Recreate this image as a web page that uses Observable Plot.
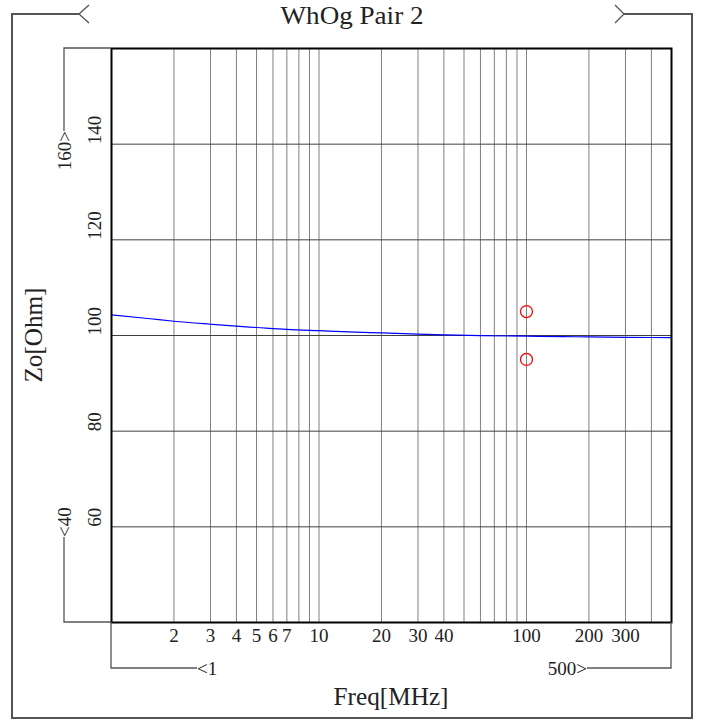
<!DOCTYPE html>
<html><head><meta charset="utf-8">
<script src="https://cdn.jsdelivr.net/npm/d3@7"></script>
<script src="https://cdn.jsdelivr.net/npm/@observablehq/plot@0.6"></script>
<style>body{margin:0;background:#fff}</style>
</head><body><div id="chart"></div>
<script>
const title = "WhOg Pair 2";
const xLabel = "Freq[MHz]";
const yLabel = "Zo[Ohm]";
const freq = [1, 1.5, 2, 3, 4, 5, 7, 10, 15, 20, 30, 40, 60, 100, 150, 200, 300, 500];
const zo = [104.3, 103.55, 102.98, 102.35, 101.94, 101.67, 101.27, 101.0, 100.72, 100.55, 100.3, 100.15, 99.97, 99.86, 99.78, 99.7, 99.62, 99.57];
const limitFreq = [100, 100];
const limitZo = [105, 95];
const xGrid = [2, 3, 4, 5, 6, 7, 8, 9, 10, 20, 30, 40, 50, 60, 70, 80, 90, 100, 200, 300, 400];
const xTickLabels = [2, 3, 4, 5, 6, 7, 10, 20, 30, 40, 100, 200, 300];
const yGrid = [60, 80, 100, 120, 140];
const yTickLabels = [60, 80, 100, 120, 140];
const xRange = [1, 500];
const yRange = [40, 160];
const xRangeLabels = ["<1", "500>"];
const yRangeLabels = ["<40", "160>"];

const W = 703, H = 720, mL = 111, mR = 32, mT = 48, mB = 98;
const FONT = "Liberation Serif";
const line = freq.map((f, i) => ({f, z: zo[i]}));
const limits = limitFreq.map((f, i) => ({f, z: limitZo[i]}));

const plot = Plot.plot({
  width: W, height: H, marginLeft: mL, marginRight: mR, marginTop: mT, marginBottom: mB,
  style: {fontFamily: FONT, fontSize: "19px", background: "white", overflow: "visible"},
  x: {type: "log", domain: xRange, axis: null},
  y: {domain: yRange, axis: null},
  marks: [
    Plot.ruleX(xGrid, {stroke: "#808080", strokeWidth: 1}),
    Plot.ruleY(yGrid, {stroke: "#404040", strokeWidth: 1}),
    Plot.line(line, {x: "f", y: "z", stroke: "#0000ff", strokeWidth: 1.2, curve: "monotone-x"}),
    Plot.dot(limits, {x: "f", y: "z", r: 6, stroke: "red", strokeWidth: 1.3, fill: "none"}),
    Plot.frame({stroke: "black", strokeWidth: 2}),
    Plot.text(xTickLabels, {x: d => d, text: d => String(d), frameAnchor: "bottom", dy: 19, fontSize: 19, fill: "#222"}),
    Plot.text(yTickLabels, {y: d => d, text: d => String(d), frameAnchor: "left", dx: -17, rotate: -90, fontSize: 19, fill: "#222"})
  ]
});
document.getElementById("chart").appendChild(plot);

// decorations (frame, brackets, titles) placed with scales mirroring the plot
const svg = d3.select(plot);
const xs = d3.scaleLog(xRange, [mL, W - mR]);
const ys = d3.scaleLinear(yRange, [H - mB, mT]);
const g = svg.append("g").attr("fill", "none").attr("stroke", "#555").attr("stroke-width", 1.3);
const fx0 = 12, fx1 = 692, fy0 = 14, fy1 = 718;
g.append("path").attr("d", `M79,${fy0}H${fx0}V${fy1}H${fx1}V${fy0}H624`).attr("stroke-width", 2);
g.append("path").attr("d", `M89,${fy0 - 9}L79,${fy0}L89,${fy0 + 9}`);
g.append("path").attr("d", `M615,${fy0 - 9}L624,${fy0}L615,${fy0 + 9}`);
// y range bracket
const bx = 64;
g.append("path").attr("d", `M${xs(xRange[0])},${ys(yRange[1])}H${bx}V${ys(yRange[1]) + 83}`);
g.append("path").attr("d", `M${bx},${ys(yRange[0]) - 85}V${ys(yRange[0])}H${xs(xRange[0])}`);
// x range bracket
const by = 668;
g.append("path").attr("d", `M${xs(xRange[0])},${ys(yRange[0])}V${by}H${xs(xRange[0]) + 86}`);
g.append("path").attr("d", `M${xs(xRange[1])},${ys(yRange[0])}V${by}H${xs(xRange[1]) - 84}`);

const t = svg.append("g").attr("font-family", FONT).attr("fill", "#222");
t.append("text").attr("x", xs(xRange[0]) + 86).attr("y", by).attr("dy", "0.35em")
  .attr("font-size", 19).attr("text-anchor", "start").text(xRangeLabels[0]);
t.append("text").attr("x", xs(xRange[1]) - 84).attr("y", by).attr("dy", "0.35em")
  .attr("font-size", 19).attr("text-anchor", "end").text(xRangeLabels[1]);
t.append("text").attr("transform", `translate(${bx},${ys(yRange[1]) + 83}) rotate(-90)`).attr("dy", "0.35em")
  .attr("font-size", 19).attr("text-anchor", "end").text(yRangeLabels[1]);
t.append("text").attr("transform", `translate(${bx},${ys(yRange[0]) - 85}) rotate(-90)`).attr("dy", "0.35em")
  .attr("font-size", 19).attr("text-anchor", "start").text(yRangeLabels[0]);

t.append("text").attr("x", 352).attr("y", 24).attr("font-size", 25).attr("text-anchor", "middle")
  .attr("textLength", 143).attr("lengthAdjust", "spacingAndGlyphs").text(title);
t.append("text").attr("x", (mL + W - mR) / 2).attr("y", 705).attr("font-size", 25).attr("text-anchor", "middle")
  .attr("textLength", 115).attr("lengthAdjust", "spacingAndGlyphs").text(xLabel);
t.append("text").attr("transform", `translate(42,${(mT + H - mB) / 2}) rotate(-90)`).attr("font-size", 25)
  .attr("text-anchor", "middle").attr("textLength", 95).attr("lengthAdjust", "spacingAndGlyphs").text(yLabel);
</script>
</body></html>
